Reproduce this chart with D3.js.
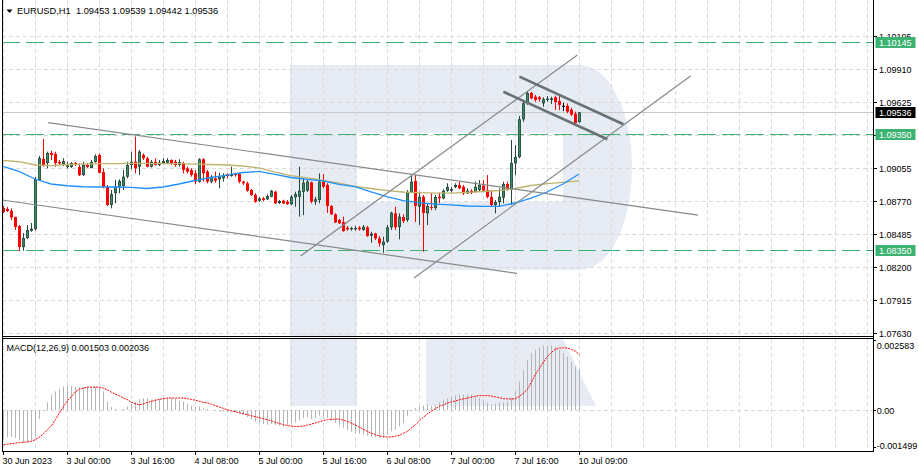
<!DOCTYPE html>
<html><head><meta charset="utf-8">
<script src="https://cdn.jsdelivr.net/npm/d3@7"></script>
<style>
body{margin:0;background:#fff}
svg{display:block}
text{font-family:"Liberation Sans",Arial,sans-serif;font-size:9px;fill:#000;white-space:pre}
</style>
</head><body>
<svg id="c" width="919" height="472"></svg>
<script>
// ---------- DATA ----------
const symbolTitle = "EURUSD,H1  1.09453 1.09539 1.09442 1.09536";
const macdTitle = "MACD(12,26,9) 0.001503 0.002036";

const open = [
1.08711,1.08702,1.08687,1.08633,1.08555,1.08374,1.08452,1.08515,1.08529,1.08952,
1.09134,1.09099,1.09185,1.09177,1.09108,1.09090,1.09065,1.09065,1.09099,1.09065,
1.08995,1.09082,1.09056,1.09108,1.09168,1.09021,1.08894,1.08737,1.08838,1.08894,
1.08901,1.08981,1.09082,1.09110,1.09067,1.09168,1.09140,1.09067,1.09110,1.09082,
1.09096,1.09102,1.09125,1.09110,1.09082,1.09096,1.09053,1.09039,1.09010,1.08938,
1.09131,1.09024,1.08938,1.08967,1.08958,1.08967,1.09002,1.08987,1.09010,1.09004,
1.08939,1.08924,1.08866,1.08823,1.08774,1.08794,1.08786,1.08808,1.08851,1.08754,
1.08774,1.08765,1.08743,1.08803,1.08808,1.08851,1.08860,1.08932,1.08765,1.08780,
1.08938,1.08909,1.08728,1.08656,1.08607,1.08590,1.08541,1.08527,1.08527,1.08541,
1.08521,1.08544,1.08472,1.08492,1.08449,1.08391,1.08420,1.08544,1.08665,1.08547,
1.08633,1.08607,1.08849,1.08944,1.08722,1.08808,1.08665,1.08719,1.08711,1.08808,
1.08794,1.08860,1.08860,1.08892,1.08909,1.08894,1.08838,1.08860,1.08849,1.08866,
1.08905,1.08866,1.08806,1.08737,1.08762,1.08800,1.08918,1.08866,1.09096,1.09151,
1.09476,1.09614,1.09703,1.09671,1.09666,1.09614,1.09643,1.09643,1.09666,1.09634,
1.09593,1.09593,1.09559,1.09524,1.09453];
const high = [
1.08728,1.08719,1.08708,1.08636,1.08564,1.08495,1.08564,1.08581,1.08978,1.09159,
1.09306,1.09197,1.09205,1.09197,1.09125,1.09140,1.09110,1.09108,1.09108,1.09096,
1.09110,1.09099,1.09125,1.09174,1.09183,1.09053,1.08909,1.08866,1.08952,1.08958,
1.09039,1.09110,1.09197,1.09326,1.09211,1.09183,1.09153,1.09125,1.09140,1.09125,
1.09140,1.09140,1.09131,1.09125,1.09131,1.09110,1.09067,1.09053,1.09039,1.09140,
1.09140,1.09039,1.08995,1.09024,1.09015,1.09010,1.09010,1.09067,1.09015,1.09015,
1.08946,1.08938,1.08875,1.08838,1.08806,1.08806,1.08829,1.08866,1.08860,1.08780,
1.08782,1.08780,1.08823,1.08851,1.09067,1.08967,1.08952,1.08938,1.08808,1.09010,
1.09004,1.08924,1.08737,1.08665,1.08618,1.08636,1.08555,1.08549,1.08555,1.08555,
1.08564,1.08555,1.08506,1.08497,1.08469,1.08463,1.08564,1.08679,1.08722,1.08665,
1.08656,1.08866,1.08987,1.08995,1.08851,1.08823,1.08751,1.08840,1.08823,1.08843,
1.08872,1.08924,1.08894,1.08924,1.08938,1.08909,1.08881,1.08872,1.08938,1.08952,
1.08952,1.08995,1.08866,1.08780,1.08881,1.08938,1.08938,1.09298,1.09254,1.09505,
1.09628,1.09714,1.09714,1.09686,1.09677,1.09666,1.09677,1.09671,1.09680,1.09680,
1.09619,1.09614,1.09576,1.09542,1.09539];
const low = [
1.08668,1.08676,1.08607,1.08521,1.08342,1.08342,1.08443,1.08506,1.08515,1.08944,
1.09067,1.09053,1.09125,1.09067,1.09082,1.09073,1.09053,1.09056,1.09073,1.08987,
1.08987,1.09056,1.09053,1.09102,1.09010,1.08881,1.08728,1.08708,1.08751,1.08838,
1.08866,1.08967,1.09045,1.09010,1.08995,1.09125,1.09062,1.09060,1.09077,1.09073,
1.09090,1.09099,1.09082,1.09067,1.09067,1.09010,1.09010,1.08981,1.08918,1.08929,
1.08938,1.08924,1.08924,1.08929,1.08881,1.08938,1.08967,1.08981,1.08981,1.08924,
1.08909,1.08851,1.08814,1.08756,1.08762,1.08771,1.08780,1.08803,1.08745,1.08745,
1.08745,1.08737,1.08737,1.08722,1.08636,1.08650,1.08851,1.08751,1.08737,1.08751,
1.08881,1.08668,1.08650,1.08581,1.08573,1.08506,1.08515,1.08515,1.08515,1.08515,
1.08515,1.08463,1.08411,1.08434,1.08377,1.08325,1.08411,1.08521,1.08521,1.08441,
1.08581,1.08592,1.08838,1.08590,1.08564,1.08334,1.08564,1.08693,1.08693,1.08751,
1.08786,1.08851,1.08843,1.08881,1.08872,1.08823,1.08831,1.08831,1.08843,1.08851,
1.08851,1.08794,1.08722,1.08665,1.08722,1.08751,1.08860,1.08737,1.08995,1.09140,
1.09455,1.09600,1.09649,1.09628,1.09628,1.09585,1.09628,1.09608,1.09556,1.09556,
1.09548,1.09528,1.09505,1.09442,1.09442];
const close = [
1.08676,1.08685,1.08630,1.08547,1.08374,1.08452,1.08521,1.08532,1.08961,1.09142,
1.09082,1.09185,1.09168,1.09099,1.09095,1.09116,1.09077,1.09099,1.09082,1.08995,
1.09082,1.09065,1.09108,1.09159,1.09015,1.08894,1.08737,1.08831,1.08894,1.08944,
1.08981,1.09082,1.09110,1.09053,1.09197,1.09140,1.09067,1.09110,1.09082,1.09102,
1.09116,1.09125,1.09096,1.09082,1.09105,1.09039,1.09024,1.08995,1.08938,1.09131,
1.09010,1.08938,1.08981,1.08946,1.08981,1.08995,1.08987,1.09004,1.08995,1.08938,
1.08924,1.08860,1.08823,1.08765,1.08794,1.08780,1.08814,1.08860,1.08751,1.08771,
1.08751,1.08745,1.08808,1.08831,1.08860,1.08929,1.08938,1.08765,1.08786,1.08938,
1.08894,1.08728,1.08656,1.08587,1.08579,1.08512,1.08527,1.08538,1.08538,1.08527,
1.08549,1.08469,1.08489,1.08449,1.08406,1.08420,1.08544,1.08670,1.08544,1.08636,
1.08598,1.08849,1.08938,1.08728,1.08808,1.08668,1.08728,1.08713,1.08806,1.08794,
1.08860,1.08892,1.08875,1.08909,1.08881,1.08838,1.08860,1.08840,1.08894,1.08909,
1.08860,1.08806,1.08737,1.08762,1.08808,1.08918,1.08866,1.09099,1.09151,1.09476,
1.09614,1.09703,1.09657,1.09643,1.09649,1.09649,1.09654,1.09657,1.09625,1.09600,
1.09591,1.09542,1.09516,1.09444,1.09536];

// moving averages, read every 4th bar (bar index = 4*k)
const maStep = 4;
const maSlow = [1.09121,1.09110,1.09082,1.09077,1.09086,1.09090,1.09093,1.09093,1.09096,1.09096,
1.09093,1.09093,1.09090,1.09086,1.09082,1.09073,1.09056,1.09021,1.08991,1.08970,
1.08948,1.08926,1.08898,1.08879,1.08860,1.08849,1.08844,1.08840,1.08840,1.08846,
1.08853,1.08862,1.08879,1.08905,1.08922,1.08932,1.08944];
const maFast = [1.09069,1.09026,1.08961,1.08918,1.08903,1.08894,1.08892,1.08892,1.08888,1.08879,
1.08892,1.08918,1.08948,1.08974,1.08995,1.09017,1.09026,1.09000,1.08974,1.08957,
1.08944,1.08914,1.08896,1.08849,1.08810,1.08775,1.08758,1.08745,1.08737,1.08728,
1.08725,1.08725,1.08754,1.08797,1.08849,1.08918,1.09004];

// MACD main (histogram) and signal, one value per bar
const macdMain = [
-0.00108,-0.00099,-0.00099,-0.00102,-0.00112,-0.00120,-0.00118,-0.00112,-0.00096,-0.00033,
-0.00005,0.00028,0.00056,0.00068,0.00078,0.00086,0.00089,0.00089,0.00084,0.00084,
0.00084,0.00086,0.00084,0.00086,0.00084,0.00068,0.00031,0.00011,0.00004,0.00001,
0.00004,0.00013,0.00023,0.00031,0.00040,0.00044,0.00044,0.00038,0.00040,0.00040,
0.00044,0.00044,0.00044,0.00041,0.00035,0.00031,0.00023,0.00016,0.00011,0.00013,
0.00007,0.00004,0.00001,-0.00003,-0.00005,-0.00005,-0.00008,-0.00005,-0.00009,-0.00013,
-0.00017,-0.00026,-0.00035,-0.00042,-0.00047,-0.00051,-0.00054,-0.00051,-0.00054,-0.00057,
-0.00060,-0.00056,-0.00050,-0.00045,-0.00038,-0.00029,-0.00026,-0.00033,-0.00029,-0.00021,
-0.00021,-0.00029,-0.00038,-0.00047,-0.00057,-0.00066,-0.00074,-0.00079,-0.00084,-0.00087,
-0.00090,-0.00094,-0.00096,-0.00099,-0.00102,-0.00102,-0.00090,-0.00078,-0.00072,-0.00060,
-0.00047,-0.00021,-0.00005,0.00007,0.00013,0.00016,0.00019,0.00016,0.00019,0.00028,
0.00036,0.00042,0.00048,0.00054,0.00058,0.00058,0.00056,0.00056,0.00050,0.00044,
0.00035,0.00026,0.00019,0.00023,0.00028,0.00028,0.00031,0.00045,0.00068,0.00104,
0.00147,0.00184,0.00208,0.00220,0.00230,0.00236,0.00236,0.00236,0.00230,0.00220,
0.00208,0.00196,0.00177,0.00159,0.001503];
const macdSignal = [
-0.00127,-0.00125,-0.00123,-0.00121,-0.00119,-0.00118,-0.00116,-0.00114,-0.00108,-0.00099,
-0.00087,-0.00072,-0.00057,-0.00035,-0.00010,0.00012,0.00034,0.00050,0.00067,0.00076,
0.00081,0.00084,0.00084,0.00084,0.00084,0.00080,0.00074,0.00065,0.00058,0.00052,
0.00044,0.00038,0.00028,0.00023,0.00019,0.00023,0.00028,0.00032,0.00036,0.00039,
0.00042,0.00044,0.00044,0.00044,0.00044,0.00044,0.00042,0.00039,0.00036,0.00032,
0.00028,0.00026,0.00021,0.00016,0.00011,0.00006,0.00001,-0.00003,-0.00006,-0.00010,
-0.00014,-0.00017,-0.00021,-0.00024,-0.00028,-0.00032,-0.00035,-0.00040,-0.00045,-0.00049,
-0.00054,-0.00057,-0.00059,-0.00060,-0.00060,-0.00058,-0.00055,-0.00051,-0.00047,-0.00043,
-0.00038,-0.00035,-0.00034,-0.00033,-0.00033,-0.00037,-0.00042,-0.00048,-0.00055,-0.00063,
-0.00071,-0.00078,-0.00085,-0.00090,-0.00095,-0.00097,-0.00099,-0.00098,-0.00096,-0.00092,
-0.00085,-0.00078,-0.00066,-0.00054,-0.00039,-0.00026,-0.00014,-0.00004,0.00005,0.00014,
0.00019,0.00026,0.00030,0.00033,0.00038,0.00041,0.00044,0.00047,0.00051,0.00053,
0.00053,0.00053,0.00051,0.00048,0.00045,0.00042,0.00041,0.00040,0.00042,0.00050,
0.00062,0.00076,0.00103,0.00132,0.00153,0.00176,0.00196,0.00211,0.00223,0.00227,
0.00228,0.00227,0.00222,0.00215,0.002036];

const priceTicks = [1.10195,1.09910,1.09625,1.09340,1.09055,1.08770,1.08485,1.08200,1.07915,1.07630];
const levels = [1.10145,1.09350,1.08350];
const lastPrice = 1.09536;
const macdTicks = [0.002583,0,-0.001499];
const macdTickLabels = ["0.002583","0.00","-0.001499"];
const timeIdx = [0,16,32,48,64,80,96,112,128,144];
const timeLabels = ["30 Jun 2023","3 Jul 00:00","3 Jul 16:00","4 Jul 08:00","5 Jul 00:00","5 Jul 16:00","6 Jul 08:00","7 Jul 00:00","7 Jul 16:00","10 Jul 09:00"];

// trend lines: [barIndex1, price1, barIndex2, price2]
const thinLines = [
 [11.25,1.09447,173.75,1.08650],
 [-0.25,1.08780,128.5,1.08147],
 [74.4,1.08296,143.6,1.10031],
 [102.75,1.08107,171.9,1.09850]
];
const thickLines = [
 [129.1,1.09844,155.1,1.09433],
 [125.1,1.09714,151.1,1.09304]
];

// ---------- CHART ----------
const W=919,H=472;
const L=2, R=873, mainBot=337, mTop=339, mBot=451;
const x = d3.scaleLinear().domain([0,216]).range([3,867]);
const y = d3.scaleLinear().domain([1.07598,1.10488]).range([337,2]);
const ym = d3.scaleLinear().domain([-0.001499,0.002583]).range([451,339.5]);
const px = v => Math.round(v)+0.5;

const svg = d3.select('#c');
svg.append('rect').attr('width',W).attr('height',H).attr('fill','#fff');
const defs = svg.append('defs');
defs.append('clipPath').attr('id','cm').append('rect').attr('x',L).attr('y',0).attr('width',R-L).attr('height',mainBot);
defs.append('clipPath').attr('id','cd').append('rect').attr('x',L).attr('y',mTop).attr('width',R-L).attr('height',mBot-mTop);

const gMain = svg.append('g').attr('clip-path','url(#cm)');
const gMacd = svg.append('g').attr('clip-path','url(#cd)');

// watermark logo
const wm = '#e7ebf4';
gMain.append('path').attr('fill',wm).attr('fill-rule','evenodd')
  .attr('d','M290,65 H580 A52,102.5 0 0 1 580,270 H357 V337 H290 Z M357,133 H563 V202 H357 Z');
gMacd.append('rect').attr('x',290).attr('y',mTop).attr('width',67).attr('height',406-mTop).attr('fill',wm);
gMacd.append('path').attr('fill',wm).attr('d','M426,339 H563 L596,406 H426 Z');

// grid
const gridC = '#d9d9d9';
const vIdx = d3.range(0,217,8);
gMain.selectAll('.vg').data(vIdx).join('line')
  .attr('x1',d=>px(x(d))).attr('x2',d=>px(x(d))).attr('y1',0).attr('y2',mainBot)
  .attr('stroke',gridC).attr('stroke-dasharray','4,3');
gMacd.selectAll('.vg').data(vIdx).join('line')
  .attr('x1',d=>px(x(d))).attr('x2',d=>px(x(d))).attr('y1',mTop).attr('y2',mBot)
  .attr('stroke',gridC).attr('stroke-dasharray','4,3');
gMain.selectAll('.hg').data(priceTicks).join('line')
  .attr('x1',L).attr('x2',R).attr('y1',d=>px(y(d))).attr('y2',d=>px(y(d)))
  .attr('stroke',gridC).attr('stroke-dasharray','4,3');
gMacd.append('line').attr('x1',L).attr('x2',R).attr('y1',px(ym(0))).attr('y2',px(ym(0)))
  .attr('stroke',gridC).attr('stroke-dasharray','4,3');

// level lines
gMain.selectAll('.lv').data(levels).join('line')
  .attr('x1',L).attr('x2',R).attr('y1',d=>px(y(d))).attr('y2',d=>px(y(d)))
  .attr('stroke','#3cb371').attr('stroke-width',1.2).attr('stroke-dasharray','18,6');
// last price line
gMain.append('line').attr('x1',L).attr('x2',R).attr('y1',px(y(lastPrice))).attr('y2',px(y(lastPrice)))
  .attr('stroke','#c9c9c9');

// candles
const bars = d3.range(open.length).map(i=>({i,o:open[i],h:high[i],l:low[i],c:close[i]}));
const upC='#3d8b66', upE='#24473a', dnC='#ff0000';
const cg = gMain.append('g');
bars.forEach(b=>{
  const cx = Math.round(x(b.i));
  const doji = Math.abs(b.o-b.c) <= 0.00006;
  const up = b.c > b.o;
  const col = doji ? '#000' : (up ? upE : dnC);
  cg.append('line').attr('x1',cx+0.5).attr('x2',cx+0.5).attr('y1',y(b.h)).attr('y2',y(b.l)).attr('stroke',col);
  const top = y(Math.max(b.o,b.c)), bot = y(Math.min(b.o,b.c));
  const hgt = Math.max(1, bot-top);
  if(doji){
    cg.append('rect').attr('x',cx-1).attr('y',top).attr('width',3).attr('height',1).attr('fill','#000');
  } else if(up){
    cg.append('rect').attr('x',cx-1).attr('y',top).attr('width',3).attr('height',hgt).attr('fill',upE);
    if(hgt>2) cg.append('rect').attr('x',cx-0.3).attr('y',top+0.8).attr('width',1.6).attr('height',hgt-1.6).attr('fill',upC);
  } else {
    cg.append('rect').attr('x',cx-1).attr('y',top).attr('width',3).attr('height',hgt).attr('fill',dnC);
  }
});

// moving averages
const maLine = d3.line().x((d,k)=>x(k*maStep)).y(d=>y(d));
gMain.append('path').attr('d',maLine(maSlow)).attr('fill','none').attr('stroke','#bdb36c').attr('stroke-width',1.3);
gMain.append('path').attr('d',maLine(maFast)).attr('fill','none').attr('stroke','#1e90ff').attr('stroke-width',1.3);

// trend lines
gMain.selectAll('.tl').data(thinLines).join('line')
  .attr('x1',d=>x(d[0])).attr('y1',d=>y(d[1])).attr('x2',d=>x(d[2])).attr('y2',d=>y(d[3]))
  .attr('stroke','#858a8a').attr('stroke-width',1.2);
gMain.selectAll('.tk').data(thickLines).join('line')
  .attr('x1',d=>x(d[0])).attr('y1',d=>y(d[1])).attr('x2',d=>x(d[2])).attr('y2',d=>y(d[3]))
  .attr('stroke','#687272').attr('stroke-width',2.6);

// MACD histogram
gMacd.selectAll('.hb').data(macdMain).join('line')
  .attr('x1',(d,i)=>px(x(i))).attr('x2',(d,i)=>px(x(i)))
  .attr('y1',ym(0)).attr('y2',d=>ym(d))
  .attr('stroke','#b4b4b4').attr('stroke-width',1);
// signal
gMacd.append('path').attr('d',d3.line().x((d,i)=>x(i)+0.5).y(d=>ym(d))(macdSignal))
  .attr('fill','none').attr('stroke','#ff0000').attr('stroke-width',1).attr('stroke-dasharray','2,1');

// frames
const fr = svg.append('g').attr('stroke','#000').attr('stroke-width',1).attr('fill','none');
fr.append('line').attr('x1',L+0.5).attr('x2',L+0.5).attr('y1',0).attr('y2',mBot+0.5);
fr.append('line').attr('x1',R+0.5).attr('x2',R+0.5).attr('y1',0).attr('y2',mBot+0.5);
fr.append('line').attr('x1',L).attr('x2',R+1).attr('y1',mainBot-0.5).attr('y2',mainBot-0.5);
fr.append('line').attr('x1',L).attr('x2',R+1).attr('y1',mTop-0.5).attr('y2',mTop-0.5);
fr.append('line').attr('x1',L).attr('x2',R+1).attr('y1',mBot+0.5).attr('y2',mBot+0.5);

// price axis
priceTicks.forEach(t=>{
  const yy = px(y(t));
  svg.append('line').attr('x1',R).attr('x2',R+4).attr('y1',yy).attr('y2',yy).attr('stroke','#000');
  svg.append('text').attr('x',879).attr('y',yy+3.5).text(t.toFixed(5));
});
function tag(v, bg){
  const yy = px(y(v));
  svg.append('rect').attr('x',875.5).attr('y',yy-5.5).attr('width',40).attr('height',11).attr('fill',bg);
  svg.append('text').attr('x',879).attr('y',yy+3.5).style('fill','#fff').text(v.toFixed(5));
}
levels.forEach(v=>tag(v,'#3cb371'));
tag(lastPrice,'#000');

// MACD axis
macdTicks.forEach((t,k)=>{
  const yy = ym(t);
  const ty = k===0 ? 348.5 : (k===2 ? 448.5 : yy+3.5);
  const tk = k===0 ? 340.5 : (k===2 ? 447.5 : px(yy));
  svg.append('line').attr('x1',R).attr('x2',R+3).attr('y1',tk).attr('y2',tk).attr('stroke','#000');
  svg.append('text').attr('x',876.7).attr('y',ty).text(macdTickLabels[k]);
});

// time axis
timeIdx.forEach((t,k)=>{
  const xx = px(x(t));
  svg.append('line').attr('x1',xx).attr('x2',xx).attr('y1',mBot).attr('y2',mBot+4).attr('stroke','#000');
  svg.append('text').attr('x',xx-1).attr('y',463.5).text(timeLabels[k]);
});

// headers
svg.append('path').attr('d','M6.5,9.5 L12.5,9.5 L9.5,13 Z').attr('fill','#000');
svg.append('text').attr('x',17).attr('y',14).style('font-size','9.3px').text(symbolTitle);
svg.append('text').attr('x',6.5).attr('y',350.5).text(macdTitle);
</script>
</body></html>
